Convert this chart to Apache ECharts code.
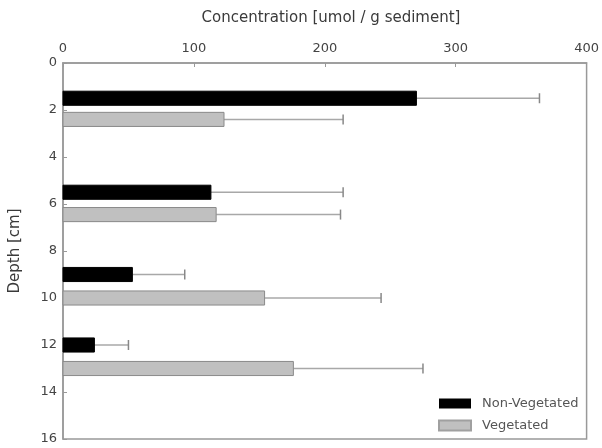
<!DOCTYPE html>
<html>
<head>
<meta charset="utf-8">
<script src="https://cdn.jsdelivr.net/npm/echarts@6/dist/echarts.min.js"></script>
<style>
  html, body { margin: 0; padding: 0; background: #fff; }
  #chart { width: 602px; height: 448px; }
</style>
</head>
<body>
<div id="chart"></div>
<script>
// Depth positions (cm) of each bar and the concentration means / error magnitudes
const nonVegDepth = [1.5, 5.5, 9, 12];
const nonVegMean  = [270, 113, 53, 24];
const nonVegErr   = [94, 101, 40, 26];

const vegDepth = [2.4, 6.45, 10, 13];
const vegMean  = [123, 117, 154, 176];
const vegErr   = [91, 95, 89, 99];

const xTicks = [0, 100, 200, 300, 400];
const yTicks = [0, 2, 4, 6, 8, 10, 12, 14, 16];

const BAR_THICK = 0.6; // bar thickness in depth units
const FONT = 'DejaVu Sans, Liberation Sans, sans-serif';

function makeData(depths, means, errs) {
  return depths.map((d, i) => [d, means[i], means[i] + errs[i]]);
}

function barRenderer(fill, stroke) {
  return function (params, api) {
    const depth = api.value(0);
    const mean = api.value(1);
    const hi = api.value(2);
    const p0 = api.coord([0, depth]);
    const p1 = api.coord([mean, depth]);
    const p2 = api.coord([hi, depth]);
    const h = api.size([0, BAR_THICK])[1];
    return {
      type: 'group',
      children: [
        { type: 'line', shape: { x1: p1[0], y1: p1[1], x2: p2[0], y2: p2[1] },
          style: { stroke: '#a8a8a8', lineWidth: 1.5 } },
        { type: 'line', shape: { x1: p2[0], y1: p2[1] - 5, x2: p2[0], y2: p2[1] + 5 },
          style: { stroke: '#888', lineWidth: 1.5 } },
        { type: 'rect', shape: { x: p0[0], y: p0[1] - h / 2, width: p1[0] - p0[0], height: h },
          style: { fill: fill, stroke: stroke, lineWidth: 1 } }
      ]
    };
  };
}

const chart = echarts.init(document.getElementById('chart'));
chart.setOption({
  animation: false,
  backgroundColor: '#fff',
  textStyle: { fontFamily: FONT },
  title: {
    text: 'Concentration [umol / g sediment]',
    left: 326, top: 6, textAlign: 'center',
    textStyle: { fontSize: 15, fontWeight: 'normal', color: '#3a3a3a', fontFamily: FONT }
  },
  grid: {
    left: 62, top: 63, right: 12, bottom: 9,
    show: true, borderColor: '#999', borderWidth: 1.5, backgroundColor: 'transparent'
  },
  legend: {
    orient: 'vertical', left: 433, top: 392,
    itemWidth: 32, itemHeight: 10, itemGap: 9, icon: 'rect',
    textStyle: { fontSize: 13, color: '#555', fontFamily: FONT, padding: [0, 0, 0, 6] },
    data: ['Non-Vegetated', 'Vegetated']
  },
  xAxis: {
    type: 'value', position: 'top', min: xTicks[0], max: xTicks[xTicks.length - 1], interval: 100,
    axisLine: { show: true, lineStyle: { color: '#999', width: 1.5 } },
    axisTick: { show: true, inside: true, length: 4, lineStyle: { color: '#999' } },
    axisLabel: { fontSize: 13, color: '#444', margin: 8, fontFamily: FONT },
    splitLine: { show: false }
  },
  yAxis: {
    type: 'value', inverse: true, min: yTicks[0], max: yTicks[yTicks.length - 1], interval: 2,
    name: 'Depth [cm]', nameLocation: 'middle', nameGap: 40, nameRotate: 90,
    nameTextStyle: { fontSize: 15, color: '#3a3a3a', fontFamily: FONT },
    axisLine: { show: true, lineStyle: { color: '#999', width: 1.5 } },
    axisTick: { show: true, inside: true, length: 4, lineStyle: { color: '#999' } },
    axisLabel: { fontSize: 13, color: '#444', margin: 6, fontFamily: FONT },
    splitLine: { show: false }
  },
  series: [
    {
      name: 'Non-Vegetated', type: 'custom',
      itemStyle: { color: '#000', borderColor: '#000' },
      encode: { x: [1, 2], y: 0 },
      renderItem: barRenderer('#000', '#000'),
      data: makeData(nonVegDepth, nonVegMean, nonVegErr)
    },
    {
      name: 'Vegetated', type: 'custom',
      itemStyle: { color: '#c0c0c0', borderColor: '#a0a0a0', borderWidth: 1 },
      encode: { x: [1, 2], y: 0 },
      renderItem: barRenderer('#c0c0c0', '#8a8a8a'),
      data: makeData(vegDepth, vegMean, vegErr)
    }
  ]
});
</script>
</body>
</html>
